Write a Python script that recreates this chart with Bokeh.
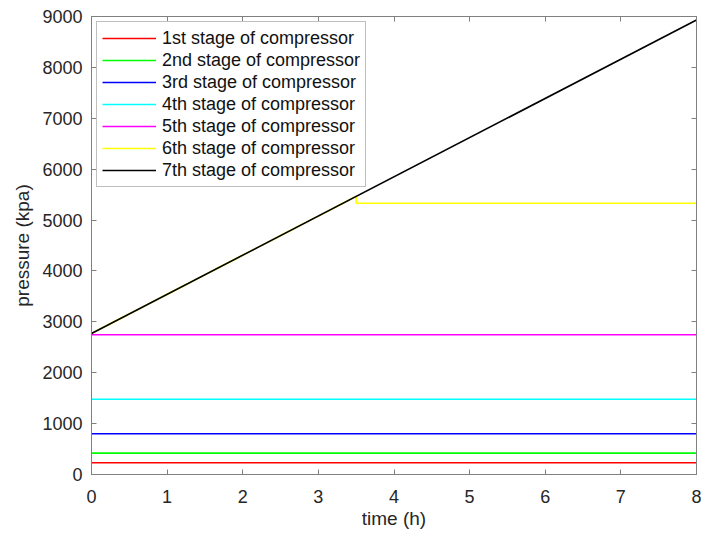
from bokeh.plotting import figure
from bokeh.models import LinearAxis, Range1d, FixedTicker, Legend, LegendItem
from bokeh.embed import file_html
from bokeh.resources import INLINE

# data
t = [0, 8]
stage_names = ["1st stage of compressor", "2nd stage of compressor", "3rd stage of compressor",
               "4th stage of compressor", "5th stage of compressor", "6th stage of compressor",
               "7th stage of compressor"]
p1 = [230, 230]
p2 = [420, 420]
p3 = [800, 800]
p4 = [1480, 1480]
p5 = [2745, 2745]
t6 = [0, 3.5, 3.5, 8]
p6 = [2770, 5465, 5330, 5330]
t7 = [0, 8]
p7 = [2770, 8930]
colors = ["#ff0000", "#00ff00", "#0000ff", "#00ffff", "#ff00ff", "#ffff00", "#000000"]
x_ticks = [0, 1, 2, 3, 4, 5, 6, 7, 8]
y_ticks = [0, 1000, 2000, 3000, 4000, 5000, 6000, 7000, 8000, 9000]

FONT = "Liberation Sans"
GRAY = "#808080"

p = figure(width=701, height=536, output_backend="svg", toolbar_location=None,
           x_range=Range1d(0, 8), y_range=Range1d(0, 9000),
           min_border_left=91, min_border_right=5, min_border_top=16, min_border_bottom=62)
p.background_fill_color = "white"
p.border_fill_color = "white"
p.outline_line_color = GRAY
p.grid.visible = False

xs = [t, t, t, t, t, t6, t7]
ys = [p1, p2, p3, p4, p5, p6, p7]
renderers = []
for x, y, c in zip(xs, ys, colors):
    r = p.line(x, y, line_color=c, line_width=1.6)
    renderers.append(r)

for ax in (p.xaxis[0], p.yaxis[0]):
    ax.axis_line_color = GRAY
    ax.major_tick_line_color = GRAY
    ax.major_tick_in = 5
    ax.major_tick_out = 0
    ax.minor_tick_line_color = None
    ax.major_label_text_font = FONT
    ax.major_label_text_font_size = "18px"
    ax.major_label_text_color = "#262626"
    ax.axis_label_text_font = FONT
    ax.axis_label_text_font_size = "19px"
    ax.axis_label_text_font_style = "normal"
    ax.axis_label_text_color = "#262626"

p.xaxis[0].ticker = FixedTicker(ticks=x_ticks)
p.yaxis[0].ticker = FixedTicker(ticks=y_ticks)
p.xaxis[0].axis_label = "time (h)"
p.yaxis[0].axis_label = "pressure (kpa)"
p.xaxis[0].major_label_standoff = 15
p.yaxis[0].major_label_standoff = 9
p.xaxis[0].axis_label_standoff = 2
p.yaxis[0].axis_label_standoff = 6

top = LinearAxis(ticker=FixedTicker(ticks=x_ticks), major_label_text_font_size="0px",
                 axis_line_color=GRAY, major_tick_line_color=GRAY, major_tick_in=5,
                 major_tick_out=0, minor_tick_line_color=None, major_label_standoff=0)
right = LinearAxis(ticker=FixedTicker(ticks=y_ticks), major_label_text_font_size="0px",
                   axis_line_color=GRAY, major_tick_line_color=GRAY, major_tick_in=5,
                   major_tick_out=0, minor_tick_line_color=None, major_label_standoff=0)
p.add_layout(top, "above")
p.add_layout(right, "right")

legend = Legend(items=[LegendItem(label=n, renderers=[r]) for n, r in zip(stage_names, renderers)],
                location="top_left")
legend.label_text_font = FONT
legend.label_text_font_size = "18px"
legend.label_text_color = "#111111"
legend.border_line_color = GRAY
legend.border_line_width = 1
legend.glyph_width = 54
legend.glyph_height = 22
legend.label_height = 22
legend.spacing = 0
legend.padding = 5
legend.margin = 5
legend.label_standoff = 6
legend.background_fill_alpha = 1
p.add_layout(legend, "center")

open("out.html", "w").write(file_html(p, INLINE))
